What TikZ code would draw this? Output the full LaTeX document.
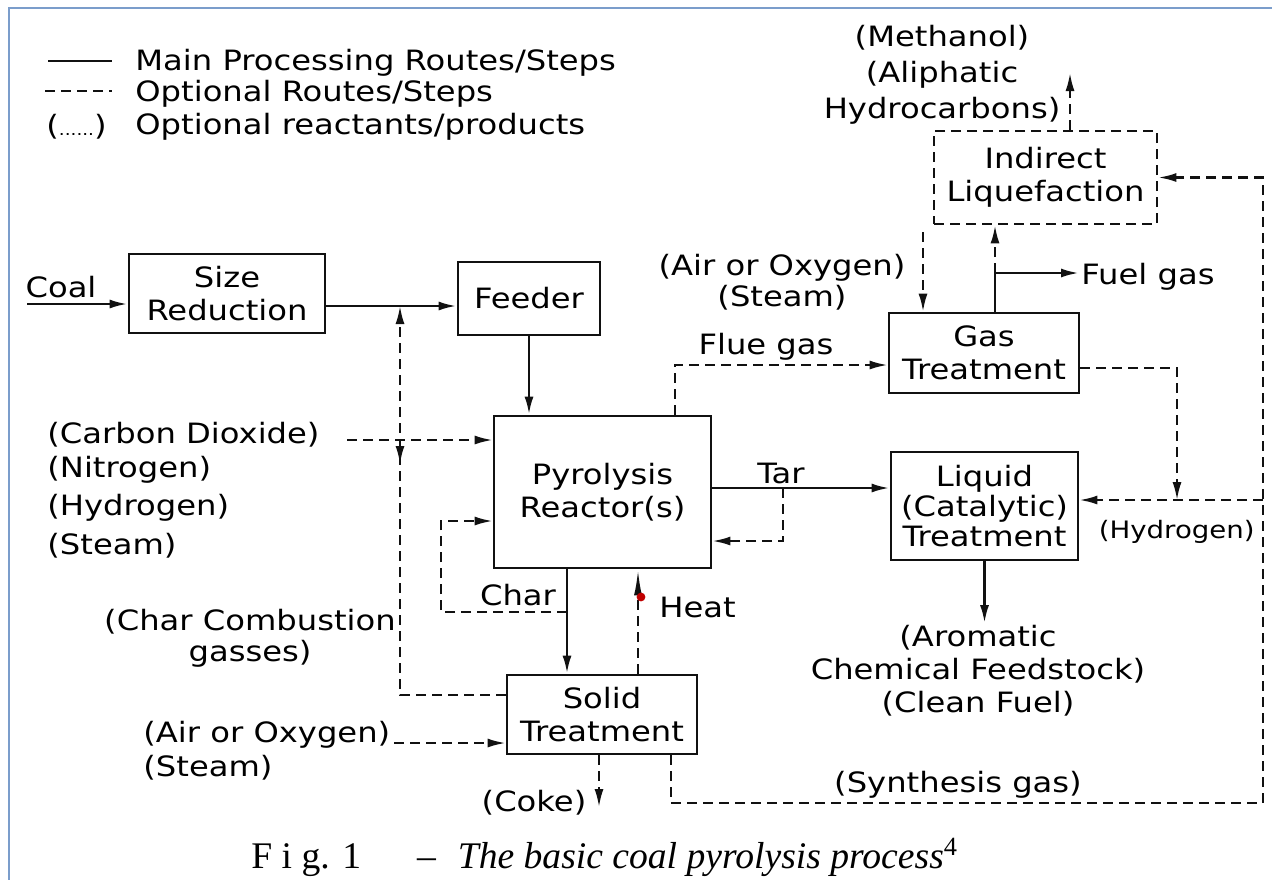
\documentclass[tikz,border=0pt]{standalone}
\usepackage{fontspec}
\setmainfont{DejaVu Sans}[FakeStretch=1.15]
\newfontfamily\captionfont{Liberation Serif}
\usetikzlibrary{arrows.meta, calc}
\usepackage{xcolor}
\definecolor{FigBlack}{HTML}{111111}
\definecolor{FrameBlue}{HTML}{7B9DCB}
\definecolor{HeatRed}{HTML}{C00000}
\tikzset{
    % Box styles
    unit/.style={
        rectangle,
        draw=FigBlack,
        fill=white,
        line width=1.4pt,
        inner sep=0pt,
        align=center
    },
    optunit/.style={
        unit,
        dash pattern=on 5pt off 3pt
    },
    stream/.style={
        inner sep=1pt,
        align=center
    },
    % Arrow styles
    arrow/.style={
        -{Latex[length=9pt,width=4.5pt]},
        line width=1.3pt,
        draw=FigBlack
    },
    dashedarrow/.style={
        arrow,
        line width=1.1pt,
        dash pattern=on 5pt off 3pt
    },
    dashedline/.style={
        line width=1.1pt,
        draw=FigBlack,
        dash pattern=on 5pt off 3pt
    }
}

\begin{document}
\begin{tikzpicture}[x=0.5pt, y=-0.5pt, font=\fontsize{14}{16.5}\selectfont]
    \useasboundingbox (0,0) rectangle (1272,879);
    \clip (0,0) rectangle (1272,879);
    \fill[white] (0,0) rectangle (1272,879);
    \draw[FrameBlue, line width=1pt] (9,8) rectangle (1320,920);

    % legend
    \node[stream, anchor=west] (lgmain) at (133,63) {Main Processing Routes/Steps};
    \node[stream, anchor=west] (lgopt) at (133,94) {Optional Routes/Steps};
    \node[stream, anchor=west] (lgprod) at (133,127) {Optional reactants/products};
    \node[stream, anchor=west] (lgdots) at (44,127) {({\fontsize{8}{8}\selectfont ......})};
    \draw[line width=1.3pt, FigBlack] ($(lgmain.west)+(-85,-2)$) -- ++(64,0);
    \draw[dashedline] ($(lgopt.west)+(-88,-3)$) -- ++(67,0);

    % process units
    \node[unit, minimum width=98pt, minimum height=39.5pt] (sr) at (227,293.5) {Size\\Reduction};
    \node[unit, minimum width=71pt, minimum height=36.5pt] (fd) at (529,298.5) {Feeder};
    \node[unit, minimum width=108.5pt, minimum height=76pt] (pyro) at (602.5,492) {Pyrolysis\\Reactor(s)};
    \node[unit, minimum width=95pt, minimum height=39.5pt] (sol) at (602,714.5) {Solid\\Treatment};
    \node[unit, minimum width=93.5pt, minimum height=54pt, font=\fontsize{14}{15}\selectfont] (liq) at (984.5,506) {Liquid\\(Catalytic)\\Treatment};
    \node[unit, minimum width=95pt, minimum height=40pt] (gas) at (984,353) {Gas\\Treatment};
    \node[optunit, minimum width=111.5pt, minimum height=46.5pt] (ind) at (1045.5,177.5) {Indirect\\Liquefaction};

    % streams
    \node[stream] (coal) at (61,287) {Coal};
    \node[stream, anchor=west] (co2) at (45,435) {(Carbon Dioxide)};
    \node[stream, anchor=west] (nit) at (45,470) {(Nitrogen)};
    \node[stream, anchor=west] (hyd) at (45,508) {(Hydrogen)};
    \node[stream, anchor=west] (stm) at (45,546) {(Steam)};
    \node[stream, font=\fontsize{14}{15.5}\selectfont] (ccg) at (250,638) {(Char Combustion\\gasses)};
    \node[stream, anchor=west] (airlo) at (141,735) {(Air or Oxygen)};
    \node[stream, anchor=west] (stmlo) at (141,768) {(Steam)};
    \node[stream] (coke) at (534,803) {(Coke)};
    \node[stream] (char) at (518,595) {Char};
    \node[stream, anchor=west] (heat) at (657,607) {Heat};
    \node[stream] (tar) at (781,473) {Tar};
    \node[stream] (flue) at (766,347) {Flue gas};
    \node[stream, font=\fontsize{14}{15.5}\selectfont] (airup) at (782,282.5) {(Air or Oxygen)\\(Steam)};
    \node[stream, anchor=west] (fuel) at (1079,277) {Fuel gas};
    \node[stream, font=\fontsize{14}{18}\selectfont] (meth) at (942,75) {(Methanol)\\(Aliphatic\\Hydrocarbons)};
    \node[stream, anchor=east, font=\fontsize{12}{14}\selectfont] (hydr) at (1257,532) {(Hydrogen)};
    \node[stream] (arom) at (978,671) {(Aromatic\\Chemical Feedstock)\\(Clean Fuel)};
    \node[stream] (syn) at (958,785) {(Synthesis gas)};

    \coordinate (coalin) at (27,304);
    \coordinate (cj) at (400,306);
    \coordinate (co2in) at (347,440);
    \coordinate (charx) at (567,612);
    \coordinate (heatx) at (638,640);
    \coordinate (tarj) at (783,488);
    \coordinate (fluex) at (675,365);
    \coordinate (airtop) at (923,232);
    \coordinate (fuelj) at (995,273);
    \coordinate (methout) at (1070,73);
    \coordinate (gasout) at (1177,368);
    \coordinate (h2j) at (1177,500);
    \coordinate (synl) at (671,803);
    \coordinate (synr) at (1263,803);
    \coordinate (cokeout) at (599,807);
    \coordinate (airloin) at (394,743);

    % main routes
    \draw[arrow] (coalin) -- (sr.west |- coalin);
    \draw[arrow] (sr.east |- cj) -- (fd.west |- cj);
    \draw[arrow] (fd.south) -- (fd.south |- pyro.north);
    \draw[arrow] (charx |- pyro.south) -- (charx |- sol.north);
    \draw[arrow] (pyro.east |- tarj) -- (liq.west |- tarj);
    \draw[arrow] (liq.south) -- (liq.south |- arom.north);
    \draw[arrow] (fuelj |- gas.north) -- (fuelj) -- (fuel.west |- fuelj);

    % optional routes
    \draw[dashedarrow] (co2in) -- (pyro.west |- co2in);
    \draw[dashedarrow] (cj |- co2in) -- ++(0,24);
    \draw[dashedarrow] (sol.west |- 0,695) -- (cj |- 0,695) -- (cj);
    \draw[dashedarrow] (charx) -- (441,612) -- (441,521) -- (pyro.west |- 0,521);
    \draw[dashedarrow, -{Latex[length=13pt,width=4pt]}] (heatx |- sol.north) -- (heatx |- pyro.south);
    \fill[HeatRed] (641,597) circle (2.2pt);
    \draw[dashedarrow] (tarj) -- (783,541) -- (pyro.east |- 0,541);
    \draw[dashedarrow] (fluex |- pyro.north) -- (fluex) -- (gas.west |- fluex);
    \draw[dashedarrow] (airtop) -- (airtop |- gas.north);
    \draw[dashedarrow] (fuelj) -- (fuelj |- ind.south);
    \draw[dashedarrow] (methout |- ind.north) -- (methout);
    \draw[dashedarrow] (gas.east |- gasout) -- (gasout) -- (h2j);
    \draw[dashedarrow] (synl |- sol.south) -- (synl) -- (synr) -- (synr |- ind.east) -- (ind.east);
    \draw[dashedarrow] (synr |- h2j) -- (liq.east |- h2j);
    \draw[dashedarrow] (cokeout |- sol.south) -- (cokeout);
    \draw[dashedarrow] (airloin) -- (sol.west |- airloin);

    % caption
    \node[anchor=base west, inner sep=0pt, font=\captionfont\fontsize{18.8}{20}\selectfont] (cap) at (251,868)
        {F i g. 1\hspace{28pt}\textendash\hspace{11pt}\textit{The basic coal pyrolysis process}\textsuperscript{4}};
\end{tikzpicture}
\end{document}
